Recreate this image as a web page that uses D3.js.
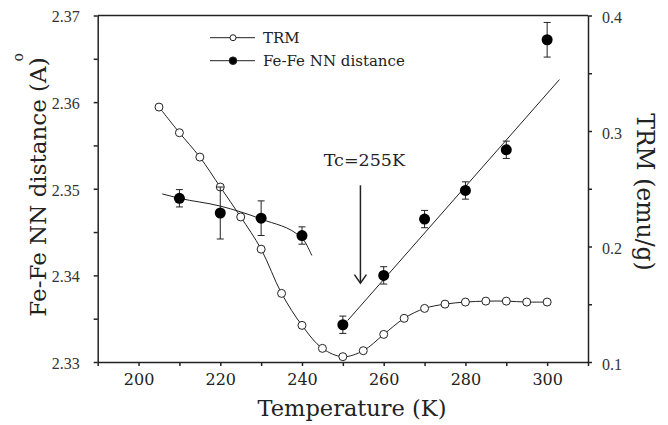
<!DOCTYPE html>
<html>
<head>
<meta charset="utf-8">
<script src="https://cdn.jsdelivr.net/npm/d3@7"></script>
<style>
  body { margin: 0; background: #fff; }
  svg { display: block; }
</style>
</head>
<body>
<svg id="chart" width="668" height="425"></svg>
<script>
(function () {
  'use strict';

  // TRM (open circles, right axis)
  var trmTemp = [205, 210, 215, 220, 225, 230, 235, 240, 245, 250, 255, 260, 265, 270, 275, 280, 285, 290, 295, 300];
  var trmValue = [0.3207, 0.2985, 0.2774, 0.2515, 0.2256, 0.1977, 0.1594, 0.1317, 0.1118, 0.1046,
    0.1098, 0.1239, 0.1378, 0.1464, 0.1501, 0.1519, 0.1527, 0.1527, 0.1519, 0.1519];

  // Fe-Fe NN distance (filled circles, left axis)
  var nnTemp = [210, 220, 230, 240, 250, 260, 270, 280, 290, 300];
  var nnValue = [2.3489, 2.3472, 2.3466, 2.3446, 2.3343, 2.3400, 2.3465, 2.3498, 2.3545, 2.3672];
  var nnError = [0.001, 0.003, 0.002, 0.001, 0.001, 0.001, 0.001, 0.001, 0.001, 0.002];

  // guide lines through the NN points
  var fitLowTemp = [205.8, 210, 220, 230, 240, 242.4];
  var fitLowValue = [2.3494, 2.3489, 2.3480, 2.3465, 2.3443, 2.3423];
  var fitHighTemp = [251.2, 303];
  var fitHighValue = [2.3348, 2.3626];

  var tcTemp = 254.3;
  var tcLabel = 'Tc=255K';

  var xTicks = [190, 200, 210, 220, 230, 240, 250, 260, 270, 280, 290, 300, 310];
  var xTickLabels = [200, 220, 240, 260, 280, 300];
  var nnTicks = [2.33, 2.335, 2.34, 2.345, 2.35, 2.355, 2.36, 2.365, 2.37];
  var nnTickLabels = [2.33, 2.34, 2.35, 2.36, 2.37];
  var trmTicks = [0.1, 0.15, 0.2, 0.25, 0.3, 0.35, 0.4];
  var trmTickLabels = [0.1, 0.2, 0.3, 0.4];

  var ink = '#222';
  var serif = '"DejaVu Serif", serif';
  var times = '"Liberation Serif", "Times New Roman", serif';

  var svg = d3.select('#chart');
  var left = 97.7, right = 588, top = 15.5, bottom = 362;

  var x = d3.scaleLinear().domain([190, 310]).range([left, right]);
  var yNN = d3.scaleLinear().domain([2.33, 2.37]).range([bottom, top]);
  var yTRM = d3.scaleLinear().domain([0.1, 0.4]).range([bottom, top]);

  function hasLabel(list, v) {
    return list.some(function (l) { return Math.abs(l - v) < 1e-9; });
  }

  // axes
  var xAxis = svg.append('g')
    .attr('transform', 'translate(0,' + bottom + ')')
    .call(d3.axisBottom(x).tickValues(xTicks).tickSize(4).tickSizeOuter(0).tickPadding(8)
      .tickFormat(function (d) { return hasLabel(xTickLabels, d) ? d : ''; }));
  xAxis.selectAll('text').attr('font-family', serif).attr('font-size', 16).attr('fill', ink);

  var lAxis = svg.append('g')
    .attr('transform', 'translate(' + left + ',0)')
    .call(d3.axisLeft(yNN).tickValues(nnTicks).tickSize(4).tickSizeOuter(0).tickPadding(14)
      .tickFormat(function (d) { return hasLabel(nnTickLabels, d) ? d3.format('.2f')(d) : ''; }));
  lAxis.selectAll('text').attr('font-family', times).attr('font-size', 16).attr('fill', '#333').attr('dy', '0.4em');

  var rAxis = svg.append('g')
    .attr('transform', 'translate(' + right + ',0)')
    .call(d3.axisRight(yTRM).tickValues(trmTicks).tickSize(4).tickSizeOuter(0).tickPadding(10)
      .tickFormat(function (d) { return hasLabel(trmTickLabels, d) ? d3.format('.1f')(d) : ''; }));
  rAxis.selectAll('text').attr('font-family', times).attr('font-size', 16).attr('fill', '#333').attr('dy', '0.45em');

  svg.selectAll('.domain, .tick line').attr('stroke', ink).attr('stroke-width', 1.5);

  svg.append('line')
    .attr('x1', left).attr('x2', right).attr('y1', top).attr('y2', top)
    .attr('stroke', ink).attr('stroke-width', 1.5);

  // axis titles
  svg.append('text')
    .attr('x', 352).attr('y', 416)
    .attr('text-anchor', 'middle')
    .attr('font-family', serif).attr('font-size', 22.5).attr('fill', ink)
    .text('Temperature (K)');

  var yTitle = svg.append('text')
    .attr('transform', 'translate(46,187) rotate(-90)')
    .attr('text-anchor', 'middle')
    .attr('font-family', serif).attr('font-size', 23).attr('fill', ink)
    .text('Fe-Fe NN distance (A)');
  // ring of the angstrom sign, sitting past the closing bracket as in the original
  var str = 'Fe-Fe NN distance (A)';
  var ext = yTitle.node().getExtentOfChar(str.length - 1);
  svg.append('text')
    .attr('transform', 'translate(46,187) rotate(-90)')
    .attr('x', ext.x + ext.width).attr('y', -23)
    .attr('text-anchor', 'middle')
    .attr('font-family', serif).attr('font-size', 14).attr('fill', ink)
    .text('o');

  svg.append('text')
    .attr('transform', 'translate(637,192) rotate(90)')
    .attr('text-anchor', 'middle')
    .attr('font-family', serif).attr('font-size', 23.5).attr('fill', ink)
    .text('TRM (emu/g)');

  var plot = svg.append('g');

  // NN guide lines
  var lineNN = d3.line()
    .x(function (d) { return x(d[0]); })
    .y(function (d) { return yNN(d[1]); });

  plot.append('path')
    .datum(d3.zip(fitLowTemp, fitLowValue))
    .attr('d', lineNN.curve(d3.curveMonotoneX))
    .attr('fill', 'none').attr('stroke', ink).attr('stroke-width', 1);

  plot.append('path')
    .datum(d3.zip(fitHighTemp, fitHighValue))
    .attr('d', lineNN.curve(d3.curveLinear))
    .attr('fill', 'none').attr('stroke', ink).attr('stroke-width', 1);

  // TRM curve
  var trmData = d3.zip(trmTemp, trmValue);
  plot.append('path')
    .datum(trmData)
    .attr('d', d3.line()
      .x(function (d) { return x(d[0]); })
      .y(function (d) { return yTRM(d[1]); })
      .curve(d3.curveCatmullRom.alpha(0.5)))
    .attr('fill', 'none').attr('stroke', ink).attr('stroke-width', 1);

  plot.selectAll('circle.trm')
    .data(trmData)
    .enter()
    .append('circle')
    .attr('class', 'trm')
    .attr('cx', function (d) { return x(d[0]); })
    .attr('cy', function (d) { return yTRM(d[1]); })
    .attr('r', 4)
    .attr('fill', '#fff').attr('stroke', ink).attr('stroke-width', 1);

  // NN points with error bars
  var nnData = nnTemp.map(function (t, i) { return { t: t, v: nnValue[i], e: nnError[i] }; });

  var bars = plot.selectAll('g.err')
    .data(nnData)
    .enter()
    .append('g')
    .attr('class', 'err')
    .attr('stroke', ink).attr('stroke-width', 1);

  bars.append('line')
    .attr('x1', function (d) { return x(d.t); })
    .attr('x2', function (d) { return x(d.t); })
    .attr('y1', function (d) { return yNN(d.v - d.e); })
    .attr('y2', function (d) { return yNN(d.v + d.e); });
  bars.append('line')
    .attr('x1', function (d) { return x(d.t) - 3.5; })
    .attr('x2', function (d) { return x(d.t) + 3.5; })
    .attr('y1', function (d) { return yNN(d.v - d.e); })
    .attr('y2', function (d) { return yNN(d.v - d.e); });
  bars.append('line')
    .attr('x1', function (d) { return x(d.t) - 3.5; })
    .attr('x2', function (d) { return x(d.t) + 3.5; })
    .attr('y1', function (d) { return yNN(d.v + d.e); })
    .attr('y2', function (d) { return yNN(d.v + d.e); });

  plot.selectAll('circle.nn')
    .data(nnData)
    .enter()
    .append('circle')
    .attr('class', 'nn')
    .attr('cx', function (d) { return x(d.t); })
    .attr('cy', function (d) { return yNN(d.v); })
    .attr('r', 5.5)
    .attr('fill', '#000');

  // Tc annotation
  var ax = x(tcTemp);
  var ay1 = yNN(2.3504), ay2 = yNN(2.3391);
  plot.append('line')
    .attr('x1', ax).attr('x2', ax).attr('y1', ay1).attr('y2', ay2)
    .attr('stroke', ink).attr('stroke-width', 1.5);
  plot.append('path')
    .attr('d', 'M' + (ax - 6) + ',' + (ay2 - 8.5) + 'L' + ax + ',' + ay2 + 'L' + (ax + 6) + ',' + (ay2 - 8.5))
    .attr('fill', 'none').attr('stroke', ink).attr('stroke-width', 1.5);
  plot.append('text')
    .attr('x', ax + 4).attr('y', yNN(2.3526))
    .attr('text-anchor', 'middle')
    .attr('font-family', serif).attr('font-size', 17.5).attr('fill', ink)
    .text(tcLabel);

  // legend
  var legend = svg.append('g');
  var items = [
    { label: 'TRM', y: 37.7, fill: '#fff', r: 3 },
    { label: 'Fe-Fe NN distance', y: 60.7, fill: '#000', r: 3.8 }
  ];
  items.forEach(function (it) {
    legend.append('line')
      .attr('x1', 210).attr('x2', 255).attr('y1', it.y).attr('y2', it.y)
      .attr('stroke', ink).attr('stroke-width', 1);
    legend.append('circle')
      .attr('cx', 233).attr('cy', it.y).attr('r', it.r)
      .attr('fill', it.fill).attr('stroke', ink).attr('stroke-width', 1);
    legend.append('text')
      .attr('x', 263).attr('y', it.y + 5)
      .attr('font-family', serif).attr('font-size', 15).attr('fill', ink)
      .text(it.label);
  });
})();
</script>
</body>
</html>
